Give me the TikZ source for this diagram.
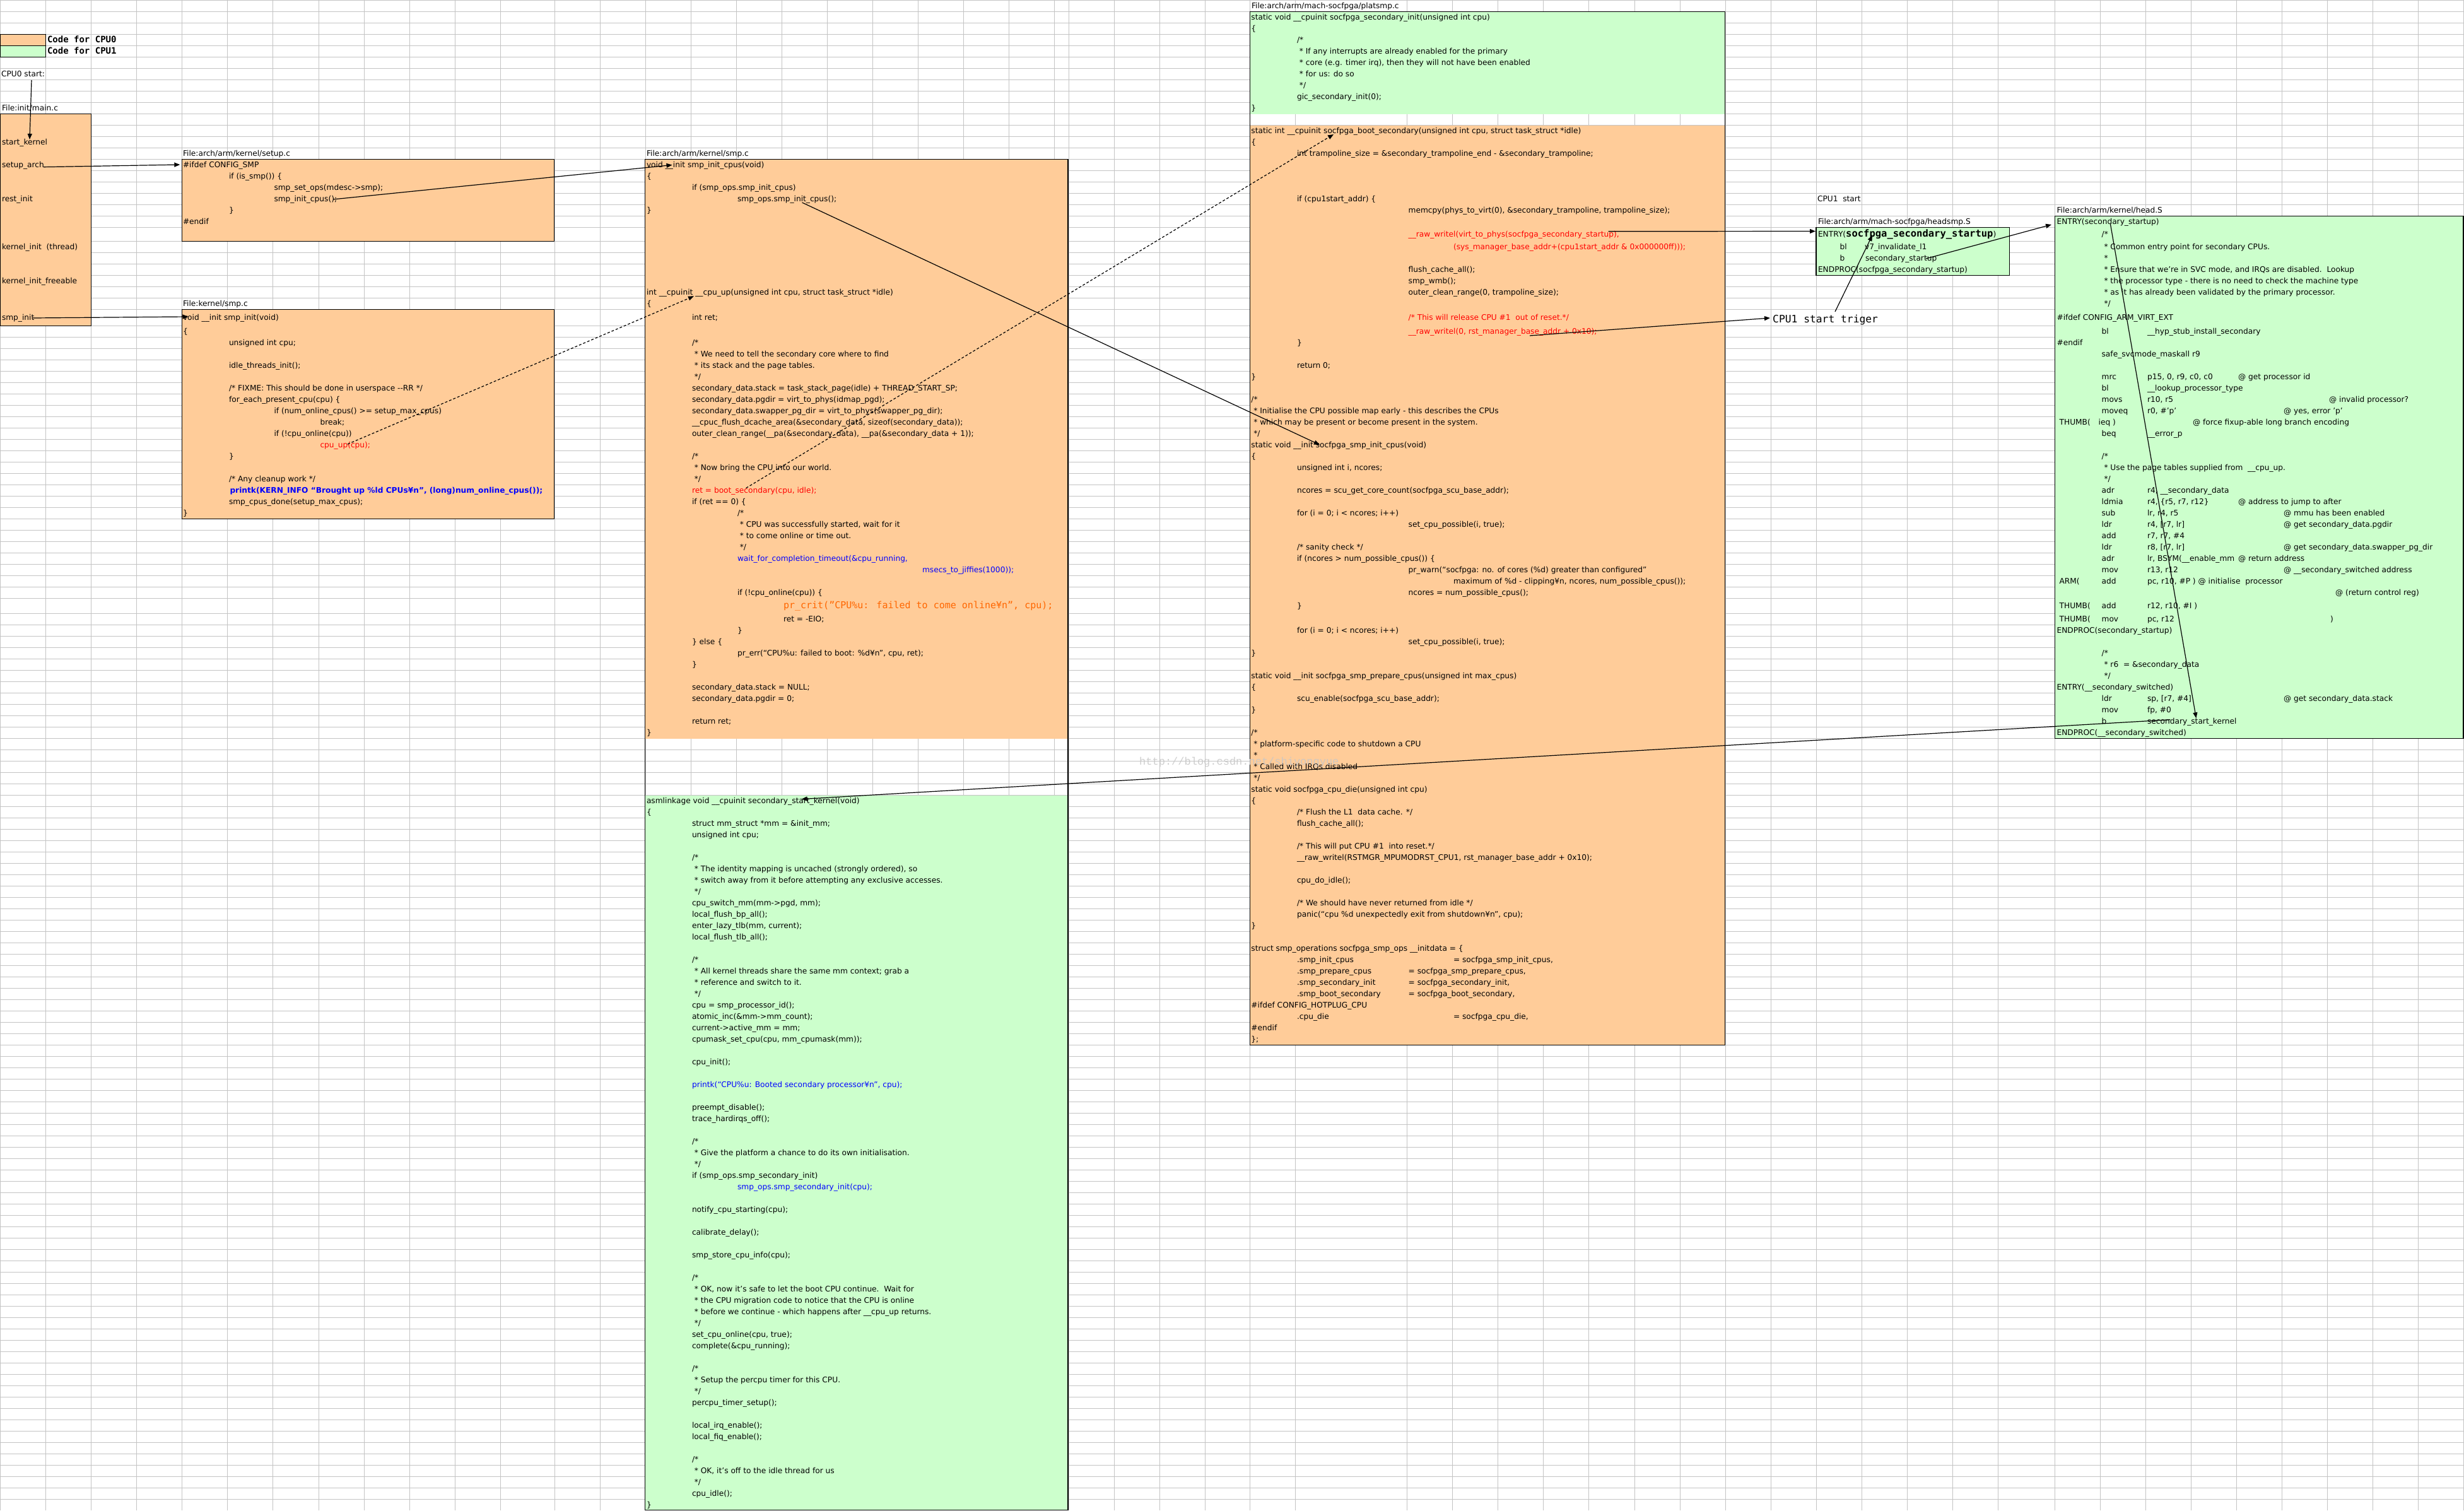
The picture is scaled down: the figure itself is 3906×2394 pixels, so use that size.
\documentclass[tikz,border=0pt]{standalone}
\usepackage{fontspec}
\usetikzlibrary{arrows.meta}
\newfontfamily\dvs{DejaVu Sans}
\newfontfamily\dvm{DejaVu Sans Mono}
\newfontfamily\lmono{Liberation Mono}
\newcommand\cfont{\dvs\fontsize{12.2}{14}\selectfont}
\newcommand\critfont{\dvm\fontsize{15}{17}\selectfont}
\newcommand\legfont{\dvm\bfseries\fontsize{14}{16}\selectfont}
\definecolor{cpuzero}{HTML}{FFCC99}
\definecolor{cpuone}{HTML}{CCFFCC}
\definecolor{gridc}{HTML}{C4C4C4}
\definecolor{orng}{HTML}{FF6600}
\newcounter{lnc}
\newcommand\rowy[1]{%
  \ifnum#1<20 \pgfmathsetmacro\ry{13.5+18*#1}%
  \else\ifnum#1=20 \def\ry{375.6}%
  \else\ifnum#1<27 \pgfmathsetmacro\ry{395.7+18*(#1-21)}%
  \else\ifnum#1=27 \def\ry{507.7}%
  \else\ifnum#1<52 \pgfmathsetmacro\ry{529.7+18*(#1-28)}%
  \else\ifnum#1=52 \def\ry{964.7}%
  \else \pgfmathsetmacro\ry{985.7+18*(#1-53)}%
  \fi\fi\fi\fi\fi\fi}
\newcommand\CL[4][]{\rowy{#3}\stepcounter{lnc}\node[ct,#1] (t\the\value{lnc}) at (#2,\ry) {#4};}
\tikzset{
  ct/.style={anchor=base west,inner sep=0pt,outer sep=0pt,font=\cfont,text=black},
  rd/.style={text=red},
  blu/.style={text=blue},
  orn/.style={text=orng},
  gridl/.style={draw=gridc,line width=1pt},
  boxl/.style={draw=black,line width=1.3pt},
  conn/.style={line width=1.2pt,-{Triangle[length=9pt,width=7pt]}},
  dconn/.style={conn,dash pattern=on 4pt off 3pt}
}
\catcode`\_=12
\begin{document}
\begin{tikzpicture}[x=1pt,y=-1pt]
\useasboundingbox (0,0) rectangle (3906,2394);
\fill[white] (0,0) rectangle (3906,2394);
% grid
\foreach \x in {0.5,72.3,144.7,216.4,288.7,360.5,432.8,505,577,649,721,793,879,951,1023,1095,1167,1239,1311,1383,1455,1527,1599,1671,1694,1766,1838,1910,1981.4,2053.6,2230.7,2302.3,2374.5,2446.6,2518.8,2591,2663,2735,2807,2879,2951,3023,3095,3167,3257.5,3329.5,3401.5,3473.5,3545.5,3617.5,3689.5,3761.5,3833.5,3905.5}
  \draw[gridl] (\x,0) -- (\x,2394);
\draw[gridl] (0,0.5) -- (3906,0.5);
\foreach \i in {0,...,19} \draw[gridl] (0,18.5+18*\i) -- (3906,18.5+18*\i);
\foreach \i in {0,...,6} \draw[gridl] (0,382.7+18*\i) -- (3906,382.7+18*\i);
\foreach \i in {0,...,24} \draw[gridl] (0,516.7+18*\i) -- (3906,516.7+18*\i);
\foreach \i in {0,...,78} \draw[gridl] (0,972.7+18*\i) -- (3906,972.7+18*\i);
% legend
\fill[cpuzero,boxl] (0.5,54.5) rectangle (72.3,72.5);
\fill[cpuone,boxl] (0.5,72.5) rectangle (72.3,90.5);
\CL[font=\legfont]{75}{3}{Code for CPU0}
\CL[font=\legfont]{75}{4}{Code for CPU1}
% boxes
\fill[cpuzero,boxl] (0.5,180.5) rectangle (144.7,516.7);
\fill[cpuzero,boxl] (288.7,252.5) rectangle (878.3,382.7);
\fill[cpuzero,boxl] (288.7,490.7) rectangle (878.3,822.7);
\fill[cpuzero] (1022.6,252.5) rectangle (1693,1170.7);
\fill[cpuone] (1022.6,1260.7) rectangle (1693,2393.5);
\draw[boxl] (1022.6,252.5) rectangle (1693,2393.5);
\fill[cpuone] (1981.4,18.5) rectangle (2734.7,180.5);
\fill[cpuzero] (1981.4,198.5) rectangle (2734.7,1656.7);
\draw[boxl] (1981.4,18.5) rectangle (2734.7,1656.7);
\fill[cpuone,boxl] (2879,360.5) rectangle (3185.3,436.7);
\fill[cpuone,boxl] (3257.5,342.5) rectangle (3905,1170.7);
% main.c
\CL{2}{6}{CPU0 start:}
\CL{3}{9}{File:init/main.c}
\CL{3}{12}{start_kernel}
\CL{3}{14}{setup_arch}
\CL{3}{17}{rest_init}
\CL{3}{21}{kernel_init\ \ (thread)}
\CL{3}{24}{kernel_init_freeable}
\CL{3}{27}{smp_init}
% setup.c
\CL{290}{13}{File:arch/arm/kernel/setup.c}
\CL{290}{14}{\#ifdef CONFIG_SMP}
\CL{363}{15}{if (is_smp()) \{}
\CL{434.5}{16}{smp_set_ops(mdesc->smp);}
\CL{434.5}{17}{smp_init_cpus();}
\CL{363}{18}{\}}
\CL{290}{19}{\#endif}
% kernel/smp.c
\CL{290}{26}{File:kernel/smp.c}
\CL{290}{27}{void __init smp_init(void)}
\CL{290}{28}{\{}
\CL{363}{29}{unsigned int cpu;}
\CL{363}{31}{idle_threads_init();}
\CL{363}{33}{/* FIXME: This should be done in userspace -\kern0pt-RR */}
\CL{363}{34}{for_each_present_cpu(cpu) \{}
\CL{434.5}{35}{if (num_online_cpus() >= setup_max_cpus)}
\CL{507.5}{36}{break;}
\CL{434.5}{37}{if (!cpu_online(cpu))}
\CL[rd]{507.5}{38}{cpu_up(cpu);}
\CL{363}{39}{\}}
\CL{363}{41}{/* Any cleanup work */}
\CL[blu,font=\cfont\bfseries]{364.5}{42}{printk(KERN_INFO “Brought up \%ld CPUs¥n”, (long)num_online_cpus());}
\CL{363}{43}{smp_cpus_done(setup_max_cpus);}
\CL{290}{44}{\}}
% arch/arm/kernel/smp.c
\CL{1025}{13}{File:arch/arm/kernel/smp.c}
\CL{1025}{14}{void __init smp_init_cpus(void)}
\CL{1025}{15}{\{}
\CL{1097}{16}{if (smp_ops.smp_init_cpus)}
\CL{1169}{17}{smp_ops.smp_init_cpus();}
\CL{1025}{18}{\}}
\CL{1025}{25}{int __cpuinit __cpu_up(unsigned int cpu, struct task_struct *idle)}
\CL{1025}{26}{\{}
\CL{1097}{27}{int ret;}
\CL{1097}{29}{/*}
\CL{1097}{30}{\ * We need to tell the secondary core where to find}
\CL{1097}{31}{\ * its stack and the page tables.}
\CL{1097}{32}{\ */}
\CL{1097}{33}{secondary_data.stack = task_stack_page(idle) + THREAD_START_SP;}
\CL{1097}{34}{secondary_data.pgdir = virt_to_phys(idmap_pgd);}
\CL{1097}{35}{secondary_data.swapper_pg_dir = virt_to_phys(swapper_pg_dir);}
\CL{1097}{36}{__cpuc_flush_dcache_area(\&secondary_data, sizeof(secondary_data));}
\CL{1097}{37}{outer_clean_range(__pa(\&secondary_data), __pa(\&secondary_data + 1));}
\CL{1097}{39}{/*}
\CL{1097}{40}{\ * Now bring the CPU into our world.}
\CL{1097}{41}{\ */}
\CL[rd]{1097}{42}{ret = boot_secondary(cpu, idle);}
\CL{1097}{43}{if (ret == 0) \{}
\CL{1169}{44}{/*}
\CL{1169}{45}{\ * CPU was successfully started, wait for it}
\CL{1169}{46}{\ * to come online or time out.}
\CL{1169}{47}{\ */}
\CL[blu]{1169}{48}{wait_for_completion_timeout(\&cpu_running,}
\CL[blu]{1462}{49}{msecs_to_jiffies(1000));}
\CL{1169}{51}{if (!cpu_online(cpu)) \{}
\CL[orn,font=\critfont]{1242}{52}{pr_crit(”CPU\%u: failed to come online¥n”, cpu);}
\CL{1242}{53}{ret = -EIO;}
\CL{1169}{54}{\}}
\CL{1097}{55}{\} else \{}
\CL{1169}{56}{pr_err(“CPU\%u: failed to boot: \%d¥n”, cpu, ret);}
\CL{1097}{57}{\}}
\CL{1097}{59}{secondary_data.stack = NULL;}
\CL{1097}{60}{secondary_data.pgdir = 0;}
\CL{1097}{62}{return ret;}
\CL{1025}{63}{\}}
\CL{1025}{69}{asmlinkage void __cpuinit secondary_start_kernel(void)}
\CL{1025}{70}{\{}
\CL{1097}{71}{struct mm_struct *mm = \&init_mm;}
\CL{1097}{72}{unsigned int cpu;}
\CL{1097}{74}{/*}
\CL{1097}{75}{\ * The identity mapping is uncached (strongly ordered), so}
\CL{1097}{76}{\ * switch away from it before attempting any exclusive accesses.}
\CL{1097}{77}{\ */}
\CL{1097}{78}{cpu_switch_mm(mm->pgd, mm);}
\CL{1097}{79}{local_flush_bp_all();}
\CL{1097}{80}{enter_lazy_tlb(mm, current);}
\CL{1097}{81}{local_flush_tlb_all();}
\CL{1097}{83}{/*}
\CL{1097}{84}{\ * All kernel threads share the same mm context; grab a}
\CL{1097}{85}{\ * reference and switch to it.}
\CL{1097}{86}{\ */}
\CL{1097}{87}{cpu = smp_processor_id();}
\CL{1097}{88}{atomic_inc(\&mm->mm_count);}
\CL{1097}{89}{current->active_mm = mm;}
\CL{1097}{90}{cpumask_set_cpu(cpu, mm_cpumask(mm));}
\CL{1097}{92}{cpu_init();}
\CL[blu]{1097}{94}{printk(“CPU\%u: Booted secondary processor¥n”, cpu);}
\CL{1097}{96}{preempt_disable();}
\CL{1097}{97}{trace_hardirqs_off();}
\CL{1097}{99}{/*}
\CL{1097}{100}{\ * Give the platform a chance to do its own initialisation.}
\CL{1097}{101}{\ */}
\CL{1097}{102}{if (smp_ops.smp_secondary_init)}
\CL[blu]{1169}{103}{smp_ops.smp_secondary_init(cpu);}
\CL{1097}{105}{notify_cpu_starting(cpu);}
\CL{1097}{107}{calibrate_delay();}
\CL{1097}{109}{smp_store_cpu_info(cpu);}
\CL{1097}{111}{/*}
\CL{1097}{112}{\ * OK, now it’s safe to let the boot CPU continue.\ \ Wait for}
\CL{1097}{113}{\ * the CPU migration code to notice that the CPU is online}
\CL{1097}{114}{\ * before we continue - which happens after __cpu_up returns.}
\CL{1097}{115}{\ */}
\CL{1097}{116}{set_cpu_online(cpu, true);}
\CL{1097}{117}{complete(\&cpu_running);}
\CL{1097}{119}{/*}
\CL{1097}{120}{\ * Setup the percpu timer for this CPU.}
\CL{1097}{121}{\ */}
\CL{1097}{122}{percpu_timer_setup();}
\CL{1097}{124}{local_irq_enable();}
\CL{1097}{125}{local_fiq_enable();}
\CL{1097}{127}{/*}
\CL{1097}{128}{\ * OK, it’s off to the idle thread for us}
\CL{1097}{129}{\ */}
\CL{1097}{130}{cpu_idle();}
\CL{1025}{131}{\}}
% platsmp.c
\CL{1984}{0}{File:arch/arm/mach-socfpga/platsmp.c}
\CL{1983.4}{1}{static void __cpuinit socfpga_secondary_init(unsigned int cpu)}
\CL{1983.4}{2}{\{}
\CL{2056}{3}{/*}
\CL{2056}{4}{\ * If any interrupts are already enabled for the primary}
\CL{2056}{5}{\ * core (e.g. timer irq), then they will not have been enabled}
\CL{2056}{6}{\ * for us: do so}
\CL{2056}{7}{\ */}
\CL{2056}{8}{gic_secondary_init(0);}
\CL{1983.4}{9}{\}}
\CL{1983.4}{11}{static int __cpuinit socfpga_boot_secondary(unsigned int cpu, struct task_struct *idle)}
\CL{1983.4}{12}{\{}
\CL{2056}{13}{int trampoline_size = \&secondary_trampoline_end - \&secondary_trampoline;}
\CL{2056}{17}{if (cpu1start_addr) \{}
\CL{2232.7}{18}{memcpy(phys_to_virt(0), \&secondary_trampoline, trampoline_size);}
\CL[rd]{2232.7}{20}{__raw_writel(virt_to_phys(socfpga_secondary_startup),}
\CL[rd]{2304}{21}{(sys_manager_base_addr+(cpu1start_addr \& 0x000000ff)));}
\CL{2232.7}{23}{flush_cache_all();}
\CL{2232.7}{24}{smp_wmb();}
\CL{2232.7}{25}{outer_clean_range(0, trampoline_size);}
\CL[rd]{2232.7}{27}{/* This will release CPU \#1\ \ out of reset.*/}
\CL[rd]{2232.7}{28}{__raw_writel(0, rst_manager_base_addr + 0x10);}
\CL{2056}{29}{\}}
\CL{2056}{31}{return 0;}
\CL{1983.4}{32}{\}}
\CL{1983.4}{34}{/*}
\CL{1983.4}{35}{\ * Initialise the CPU possible map early - this describes the CPUs}
\CL{1983.4}{36}{\ * which may be present or become present in the system.}
\CL{1983.4}{37}{\ */}
\CL{1983.4}{38}{static void __init socfpga_smp_init_cpus(void)}
\CL{1983.4}{39}{\{}
\CL{2056}{40}{unsigned int i, ncores;}
\CL{2056}{42}{ncores = scu_get_core_count(socfpga_scu_base_addr);}
\CL{2056}{44}{for (i = 0; i < ncores; i++)}
\CL{2232.7}{45}{set_cpu_possible(i, true);}
\CL{2056}{47}{/* sanity check */}
\CL{2056}{48}{if (ncores > num_possible_cpus()) \{}
\CL{2232.7}{49}{pr_warn(“socfpga: no. of cores (\%d) greater than configured”}
\CL{2304}{50}{maximum of \%d - clipping¥n, ncores, num_possible_cpus());}
\CL{2232.7}{51}{ncores = num_possible_cpus();}
\CL{2056}{52}{\}}
\CL{2056}{54}{for (i = 0; i < ncores; i++)}
\CL{2232.7}{55}{set_cpu_possible(i, true);}
\CL{1983.4}{56}{\}}
\CL{1983.4}{58}{static void __init socfpga_smp_prepare_cpus(unsigned int max_cpus)}
\CL{1983.4}{59}{\{}
\CL{2056}{60}{scu_enable(socfpga_scu_base_addr);}
\CL{1983.4}{61}{\}}
\CL{1983.4}{63}{/*}
\CL{1983.4}{64}{\ * platform-specific code to shutdown a CPU}
\CL{1983.4}{65}{\ *}
\CL{1983.4}{66}{\ * Called with IRQs disabled}
\CL{1983.4}{67}{\ */}
\CL{1983.4}{68}{static void socfpga_cpu_die(unsigned int cpu)}
\CL{1983.4}{69}{\{}
\CL{2056}{70}{/* Flush the L1\ \ data cache. */}
\CL{2056}{71}{flush_cache_all();}
\CL{2056}{73}{/* This will put CPU \#1\ \ into reset.*/}
\CL{2056}{74}{__raw_writel(RSTMGR_MPUMODRST_CPU1, rst_manager_base_addr + 0x10);}
\CL{2056}{76}{cpu_do_idle();}
\CL{2056}{78}{/* We should have never returned from idle */}
\CL{2056}{79}{panic(“cpu \%d unexpectedly exit from shutdown¥n”, cpu);}
\CL{1983.4}{80}{\}}
\CL{1983.4}{82}{struct smp_operations socfpga_smp_ops __initdata = \{}
\CL{2056}{83}{.smp_init_cpus}\CL{2304}{83}{= socfpga_smp_init_cpus,}
\CL{2056}{84}{.smp_prepare_cpus}\CL{2232.7}{84}{= socfpga_smp_prepare_cpus,}
\CL{2056}{85}{.smp_secondary_init}\CL{2232.7}{85}{= socfpga_secondary_init,}
\CL{2056}{86}{.smp_boot_secondary}\CL{2232.7}{86}{= socfpga_boot_secondary,}
\CL{1983.4}{87}{\#ifdef CONFIG_HOTPLUG_CPU}
\CL{2056}{88}{.cpu_die}\CL{2304}{88}{= socfpga_cpu_die,}
\CL{1983.4}{89}{\#endif}
\CL{1983.4}{90}{\};}
% headsmp.S
\CL{2881}{17}{CPU1\ \ start}
\CL{2882}{19}{File:arch/arm/mach-socfpga/headsmp.S}
\CL{2882}{20}{ENTRY({\dvm\bfseries\fontsize{15.5}{17}\selectfont socfpga_secondary_startup})}
\CL{2916.7}{21}{bl}\CL{2956}{21}{v7_invalidate_l1}
\CL{2916.7}{22}{b}\CL{2957}{22}{secondary_startup}
\CL{2882}{23}{ENDPROC(socfpga_secondary_startup)}
\node[anchor=base west,inner sep=0pt,font=\dvm\fontsize{16.3}{18}\selectfont] (trig) at (2810,511) {CPU1 start triger};
% head.S
\CL{3260.5}{18}{File:arch/arm/kernel/head.S}
\CL{3260.5}{19}{ENTRY(secondary_startup)}
\CL{3331.6}{20}{/*}
\CL{3331.6}{21}{\ * Common entry point for secondary CPUs.}
\CL{3331.6}{22}{\ *}
\CL{3331.6}{23}{\ * Ensure that we’re in SVC mode, and IRQs are disabled.\ \ Lookup}
\CL{3331.6}{24}{\ * the processor type - there is no need to check the machine type}
\CL{3331.6}{25}{\ * as it has already been validated by the primary processor.}
\CL{3331.6}{26}{\ */}
\CL{3260.5}{27}{\#ifdef CONFIG_ARM_VIRT_EXT}
\CL{3331.6}{28}{bl}\CL{3404}{28}{__hyp_stub_install_secondary}
\CL{3260.5}{29}{\#endif}
\CL{3331.6}{30}{safe_svcmode_maskall r9}
\CL{3331.6}{32}{mrc}\CL{3404}{32}{p15, 0, r9, c0, c0}\CL{3548}{32}{@ get processor id}
\CL{3331.6}{33}{bl}\CL{3404}{33}{__lookup_processor_type}
\CL{3331.6}{34}{movs}\CL{3404}{34}{r10, r5}\CL{3692}{34}{@ invalid processor?}
\CL{3331.6}{35}{moveq}\CL{3404}{35}{r0, \#’p’}\CL{3620}{35}{@ yes, error ’p’}
\CL{3264.6}{36}{THUMB(}\CL{3326.6}{36}{ieq )}\CL{3476}{36}{@ force fixup-able long branch encoding}
\CL{3331.6}{37}{beq}\CL{3404}{37}{__error_p}
\CL{3331.6}{39}{/*}
\CL{3331.6}{40}{\ * Use the page tables supplied from\ \ __cpu_up.}
\CL{3331.6}{41}{\ */}
\CL{3331.6}{42}{adr}\CL{3404}{42}{r4, __secondary_data}
\CL{3331.6}{43}{ldmia}\CL{3404}{43}{r4, \{r5, r7, r12\}}\CL{3548}{43}{@ address to jump to after}
\CL{3331.6}{44}{sub}\CL{3404}{44}{lr, r4, r5}\CL{3620}{44}{@ mmu has been enabled}
\CL{3331.6}{45}{ldr}\CL{3404}{45}{r4, [r7, lr]}\CL{3620}{45}{@ get secondary_data.pgdir}
\CL{3331.6}{46}{add}\CL{3404}{46}{r7, r7, \#4}
\CL{3331.6}{47}{ldr}\CL{3404}{47}{r8, [r7, lr]}\CL{3620}{47}{@ get secondary_data.swapper_pg_dir}
\CL{3331.6}{48}{adr}\CL{3404}{48}{lr, BSYM(__enable_mm}\CL{3548}{48}{@ return address}
\CL{3331.6}{49}{mov}\CL{3404}{49}{r13, r12}\CL{3620}{49}{@ __secondary_switched address}
\CL{3264.6}{50}{ARM(}\CL{3331.6}{50}{add}\CL{3404}{50}{pc, r10, \#P ) @ initialise\ \ processor}
\CL{3702}{51}{@ (return control reg)}
\CL{3264.6}{52}{THUMB(}\CL{3331.6}{52}{add}\CL{3404}{52}{r12, r10, \#I )}
\CL{3264.6}{53}{THUMB(}\CL{3331.6}{53}{mov}\CL{3404}{53}{pc, r12}\CL{3694}{53}{)}
\CL{3260.5}{54}{ENDPROC(secondary_startup)}
\CL{3331.6}{56}{/*}
\CL{3331.6}{57}{\ * r6\ \ = \&secondary_data}
\CL{3331.6}{58}{\ */}
\CL{3260.5}{59}{ENTRY(__secondary_switched)}
\CL{3331.6}{60}{ldr}\CL{3404}{60}{sp, [r7, \#4]}\CL{3620}{60}{@ get secondary_data.stack}
\CL{3331.6}{61}{mov}\CL{3404}{61}{fp, \#0}
\CL{3331.6}{62}{b}\CL{3404}{62}{secondary_start_kernel}
\CL{3260.5}{63}{ENDPROC(__secondary_switched)}
% watermark
\node[anchor=base west,inner sep=0pt,font=\lmono\fontsize{17}{17}\selectfont,text=black!22,opacity=0.85] (wm) at (1806,1212) {http://blog.csdn.net/shiyongyue};
% connector end points
\coordinate (cpu0src) at (50,127);
\coordinate (skdst) at (47,221);
\coordinate (sasrc) at (69,264.7);
\coordinate (sadst) at (285.3,261);
\coordinate (sisrc) at (52,504);
\coordinate (sidst) at (298.5,502);
\coordinate (sicsrc) at (528,316);
\coordinate (sicdst) at (1065.5,261.5);
\coordinate (cusrc) at (551,704);
\coordinate (cudst) at (1100,469.4);
\coordinate (opsrc) at (1271.5,321);
\coordinate (opdst) at (2092,705);
\coordinate (bssrc) at (1182.6,773.6);
\coordinate (bsdst) at (2114,213);
\coordinate (rwsrc) at (2549.6,366.8);
\coordinate (rwdst) at (2878,366.5);
\coordinate (rstsrc) at (2425,532);
\coordinate (rstdst) at (2806,504);
\coordinate (trsrc) at (2909,494);
\coordinate (trdst) at (2968,373);
\coordinate (b2src) at (3053,410);
\coordinate (b2dst) at (3252,356);
\coordinate (hssrc) at (3345.4,355);
\coordinate (hsdst) at (3481.4,1138.3);
\coordinate (skbsrc) at (3440.4,1140.7);
\coordinate (skbdst) at (1270.6,1266.6);
% connectors
\draw[conn] (cpu0src) -- (skdst);
\draw[conn] (sasrc) -- (sadst);
\draw[conn] (sisrc) -- (sidst);
\draw[conn] (sicsrc) -- (sicdst);
\draw[dconn] (cusrc) -- (cudst);
\draw[conn] (opsrc) -- (opdst);
\draw[dconn] (bssrc) -- (bsdst);
\draw[conn] (rwsrc) -- (rwdst);
\draw[conn] (rstsrc) -- (rstdst);
\draw[conn] (trsrc) -- (trdst);
\draw[conn] (b2src) -- (b2dst);
\draw[conn] (hssrc) -- (hsdst);
\draw[conn] (skbsrc) -- (skbdst);
\end{tikzpicture}
\end{document}
